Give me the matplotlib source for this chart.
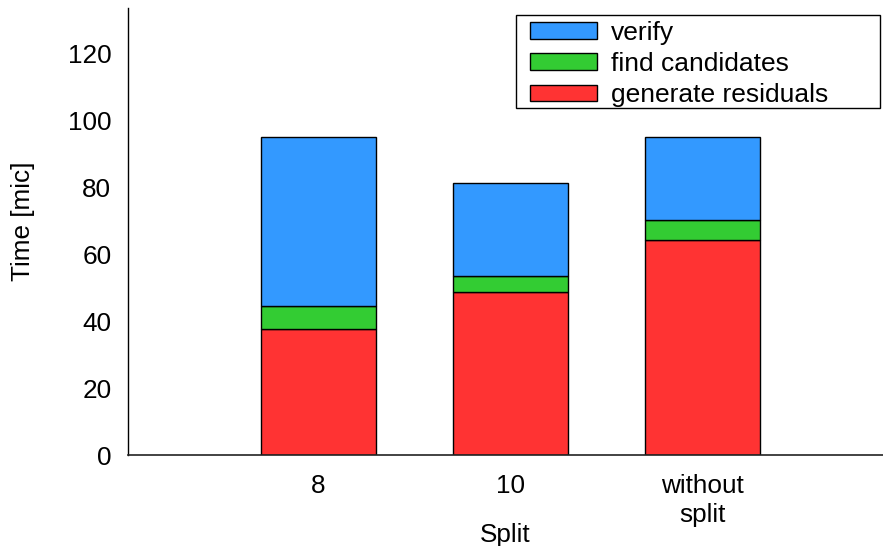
import matplotlib
matplotlib.use("Agg")
import matplotlib.pyplot as plt
from matplotlib.patches import Rectangle

plt.rcParams['font.family'] = ['Liberation Sans', 'DejaVu Sans']

# datos
categorias = ["8", "10", "without\nsplit"]
generate_residuals = [37.8, 48.8, 64.5]
find_candidates = [7.0, 4.9, 6.0]
verify = [50.4, 27.6, 24.8]

col_rojo = "#ff3333"
col_verde = "#33cc33"
col_azul = "#3399ff"

fig = plt.figure(figsize=(8.83, 5.46), dpi=100)
ax = fig.add_axes([0.145, 0.1658, 0.855, 0.8195])

x = list(range(len(categorias)))
base2 = [a + b for a, b in zip(generate_residuals, find_candidates)]

b1 = ax.bar(x, generate_residuals, width=0.6, color=col_rojo, edgecolor="black",
            linewidth=1, label="generate residuals")
b2 = ax.bar(x, find_candidates, width=0.6, bottom=generate_residuals, color=col_verde,
            edgecolor="black", linewidth=1, label="find candidates")
b3 = ax.bar(x, verify, width=0.6, bottom=base2, color=col_azul, edgecolor="black",
            linewidth=1, label="verify")

ax.set_xlim(-0.992, 2.94)
ax.set_ylim(0, 133.7)
ax.set_yticks(range(0, 121, 20))
ax.set_xticks(x)
ax.set_xticklabels(categorias, linespacing=1.27)

for s in ["top", "right"]:
    ax.spines[s].set_visible(False)
ax.spines["left"].set_linewidth(1)
ax.spines["bottom"].set_linewidth(1.2)
ax.spines["bottom"].set_color("#222222")

ax.tick_params(axis="y", length=0, pad=12, labelsize=18.8)
ax.tick_params(axis="x", length=0, pad=13.5, labelsize=18.8)

ax.set_ylabel("Time [mic]", fontsize=18.8)
ax.yaxis.set_label_coords(-0.123, 0.523)
ax.set_xlabel("Split", fontsize=18.8)
ax.xaxis.set_label_coords(0.5, -0.150)

# leyenda sin marco; el marco (mas ancho que el texto) se dibuja aparte
leg = ax.legend(handles=[b3, b2, b1], loc="upper left",
                bbox_to_anchor=(530 / 883, 1 - 21 / 546),
                bbox_transform=fig.transFigure,
                fontsize=19, frameon=False, borderaxespad=0, borderpad=0,
                handlelength=2.54, handleheight=0.6, handletextpad=0.53,
                labelspacing=0.27)
marco = Rectangle((516 / 883, 1 - 108 / 546), 364 / 883, 93 / 546,
                  transform=fig.transFigure, fill=False, edgecolor="black",
                  linewidth=1, zorder=5)
fig.patches.append(marco)

fig.savefig("out.png", dpi=100)
